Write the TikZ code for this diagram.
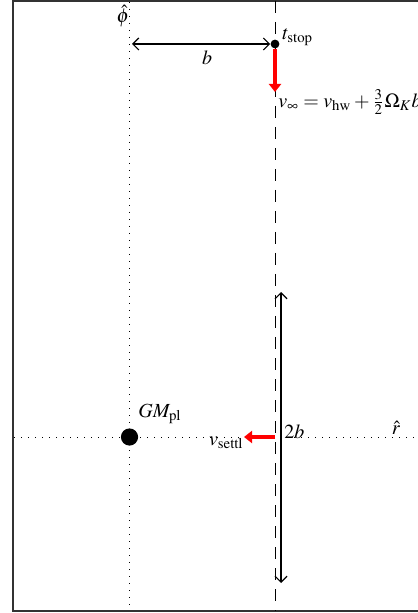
\documentclass[tikz,border=0pt]{standalone}
\usepackage{mathptmx}
\usetikzlibrary{arrows.meta}
\begin{document}
\begin{tikzpicture}[x=0.5pt,y=-0.5pt,
  axis/.style={line width=0.5pt,dash pattern=on 0.5pt off 3pt},
  guide/.style={line width=0.5pt,dash pattern=on 6pt off 4.5pt},
  redarrow/.style={red,line width=1.6pt,-{Triangle[length=4pt,width=6pt]}},
  dimarrow/.style={line width=0.6pt,{Straight Barb[length=3pt,width=6pt]}-{Straight Barb[length=3pt,width=6pt]}},
  lbl/.style={inner sep=1pt}]
\useasboundingbox (0,0) rectangle (417,613);
\draw[line width=0.8pt,black!80] (13,1) rectangle (440,611);
% axes
\draw[axis] (129.5,2) -- (129.5,611);
\draw[axis] (14,437) -- (417,437);
\draw[guide] (275,1) -- (275,611);
% nodes
\node[circle,fill,inner sep=0pt,minimum size=4.4pt] (ts) at (275,44) {};
\node[circle,fill,inner sep=0pt,minimum size=8.6pt] (pl) at (129.5,437) {};
\coordinate (bl) at (132,44);
\coordinate (vinf) at (275,92);
\coordinate (vs) at (244,437);
\coordinate (top2b) at (281,292);
\coordinate (bot2b) at (281,583);
\draw[dimarrow] (bl) -- (ts.west);
\draw[redarrow] (ts.south) -- (vinf);
\draw[redarrow] (275,437) -- (vs);
\draw[dimarrow] (top2b) -- (bot2b);
% labels
\node[lbl,anchor=west] (tstop) at (280,37) {$t_{\mathrm{stop}}$};
\node[lbl] (blab) at (207,58) {$b$};
\node[lbl,anchor=west] (vinflab) at (276,102) {$v_\infty = v_{\mathrm{hw}} + \frac{3}{2}\Omega_K b$};
\node[lbl] (phi) at (123,16) {$\hat{\phi}$};
\node[lbl,anchor=west] (gm) at (136,414) {$GM_{\mathrm{pl}}$};
\node[lbl,anchor=east] (vset) at (246,443) {$v_{\mathrm{settl}}$};
\node[lbl,anchor=west] (twob) at (282,432) {$2b$};
\node[lbl] (rhat) at (396,428) {$\hat{r}$};
\end{tikzpicture}
\end{document}
